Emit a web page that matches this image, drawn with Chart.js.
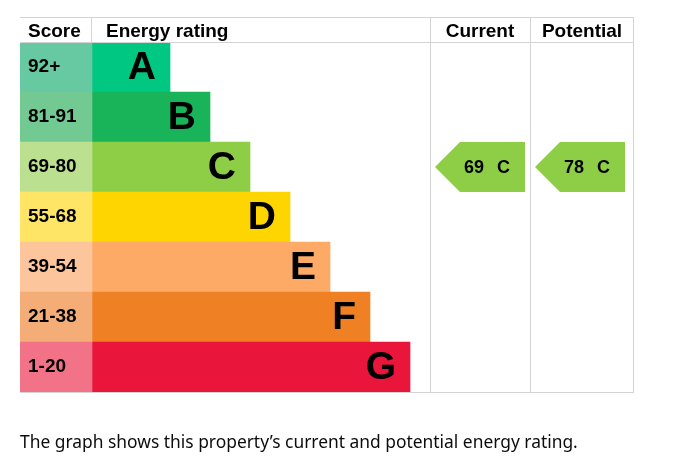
<!DOCTYPE html>
<html>
<head>
    <title>Energy rating</title>
    <script src="https://cdn.jsdelivr.net/npm/chart.js"></script>
    <style>
        body { margin: 0; background: #fff; }
        #wrap { position: relative; width: 677px; height: 468px; }
        #note {
            position: absolute; left: 20px; top: 433px; margin: 0;
            font: 17.4px/1 "Noto Sans", sans-serif; color: #0b0c0c;
        }
    </style>
</head>
<body>
<div id="wrap">
    <canvas id="epcChart" width="677" height="468"></canvas>
    <p id="note">The graph shows this property’s current and potential energy rating.</p>
</div>
<script>
    // band data
    const bands = ['A', 'B', 'C', 'D', 'E', 'F', 'G'];
    const scoreLabels = ['92+', '81-91', '69-80', '55-68', '39-54', '21-38', '1-20'];
    const bandMinScore = [92, 81, 69, 55, 39, 21, 1];
    const barLengths = [78, 118, 158, 198, 238, 278, 318];
    const currentScore = 69;
    const potentialScore = 78;

    const bandColors = ['#00c781', '#19b459', '#8dce46', '#ffd500', '#fcaa65', '#ef8023', '#e9153b'];
    const scoreColors = ['#66c9a2', '#72c992', '#bbe08f', '#ffe566', '#fdc59c', '#f5ad77', '#f27388'];

    // table columns in x-scale units
    const cols = { score: [0, 72], rating: [72, 410], current: [410, 510], potential: [510, 614] };
    const arrowLength = 90;
    const lineColor = '#d4d4d4';
    const FONT = '"Liberation Sans", Arial, sans-serif';

    function bandFor(score) {
        for (let i = 0; i < bands.length; i++) {
            if (score >= bandMinScore[i]) return bands[i];
        }
        return bands[bands.length - 1];
    }

    const epcTable = {
        id: 'epcTable',
        afterDatasetsDraw(chart) {
            const ctx = chart.ctx;
            const x = chart.scales.x, y = chart.scales.y;
            const top = chart.chartArea.top, bottom = chart.chartArea.bottom;
            const headTop = top - 25;
            const half = (y.getPixelForValue(1) - y.getPixelForValue(0)) / 2;
            const px = v => x.getPixelForValue(v);

            ctx.save();
            // grid lines
            ctx.strokeStyle = lineColor;
            ctx.lineWidth = 1;
            ctx.beginPath();
            [headTop, top, bottom].forEach(yy => {
                ctx.moveTo(px(0), Math.round(yy) + 0.5);
                ctx.lineTo(px(614), Math.round(yy) + 0.5);
            });
            [cols.current[0], cols.potential[0], cols.potential[1] - 1].forEach(v => {
                ctx.moveTo(Math.round(px(v)) + 0.5, headTop);
                ctx.lineTo(Math.round(px(v)) + 0.5, bottom + 1);
            });
            ctx.moveTo(Math.round(px(cols.rating[0])) - 0.5, headTop);
            ctx.lineTo(Math.round(px(cols.rating[0])) - 0.5, top);
            ctx.stroke();

            // header
            ctx.fillStyle = '#000';
            ctx.textBaseline = 'middle';
            ctx.font = 'bold 19px ' + FONT;
            const hy = headTop + 14.5;
            ctx.textAlign = 'left';
            ctx.fillText('Score', px(cols.score[0]) + 8, hy);
            ctx.fillText('Energy rating', px(cols.rating[0]) + 14, hy);
            ctx.textAlign = 'center';
            ctx.fillText('Current', px((cols.current[0] + cols.current[1]) / 2), hy);
            ctx.fillText('Potential', px((cols.potential[0] + cols.potential[1]) / 2), hy);

            // score labels and band letters
            bands.forEach((b, i) => {
                const cy = y.getPixelForValue(i);
                ctx.textAlign = 'left';
                ctx.font = 'bold 19px ' + FONT;
                ctx.fillText(scoreLabels[i], px(cols.score[0]) + 8, cy);
                ctx.textAlign = 'right';
                ctx.font = 'bold 39px ' + FONT;
                ctx.fillText(b, px(cols.rating[0] + barLengths[i]) - 14, cy + 1);
            });

            // rating arrows
            const drawArrow = (score, col) => {
                const band = bandFor(score);
                const i = bands.indexOf(band);
                const cy = y.getPixelForValue(i);
                const tip = px(col[0] + 5), right = px(col[0] + 5 + arrowLength);
                ctx.fillStyle = bandColors[i];
                ctx.beginPath();
                ctx.moveTo(tip, cy);
                ctx.lineTo(tip + half, cy - half);
                ctx.lineTo(right, cy - half);
                ctx.lineTo(right, cy + half);
                ctx.lineTo(tip + half, cy + half);
                ctx.closePath();
                ctx.fill();
                ctx.fillStyle = '#000';
                ctx.font = 'bold 18px ' + FONT;
                ctx.textAlign = 'left';
                ctx.fillText(String(score), tip + half + 4, cy + 1);
                ctx.textAlign = 'right';
                ctx.fillText(band, right - 15, cy + 1);
            };
            drawArrow(currentScore, cols.current);
            drawArrow(potentialScore, cols.potential);
            ctx.restore();
        }
    };

    new Chart(document.getElementById('epcChart').getContext('2d'), {
        type: 'bar',
        data: {
            labels: bands,
            datasets: [{
                label: 'Score',
                data: bands.map(() => cols.score),
                backgroundColor: scoreColors,
                grouped: false,
                barPercentage: 1,
                categoryPercentage: 1
            }, {
                label: 'Energy rating',
                data: barLengths.map(l => [cols.rating[0], cols.rating[0] + l]),
                backgroundColor: bandColors,
                grouped: false,
                barPercentage: 1,
                categoryPercentage: 1
            }]
        },
        options: {
            indexAxis: 'y',
            responsive: false,
            animation: false,
            layout: { padding: { left: 20, right: 43, top: 42, bottom: 76 } },
            plugins: { legend: { display: false }, tooltip: { enabled: false } },
            scales: {
                x: { type: 'linear', min: 0, max: 614, display: false },
                y: { display: false }
            }
        },
        plugins: [epcTable]
    });
</script>
</body>
</html>
